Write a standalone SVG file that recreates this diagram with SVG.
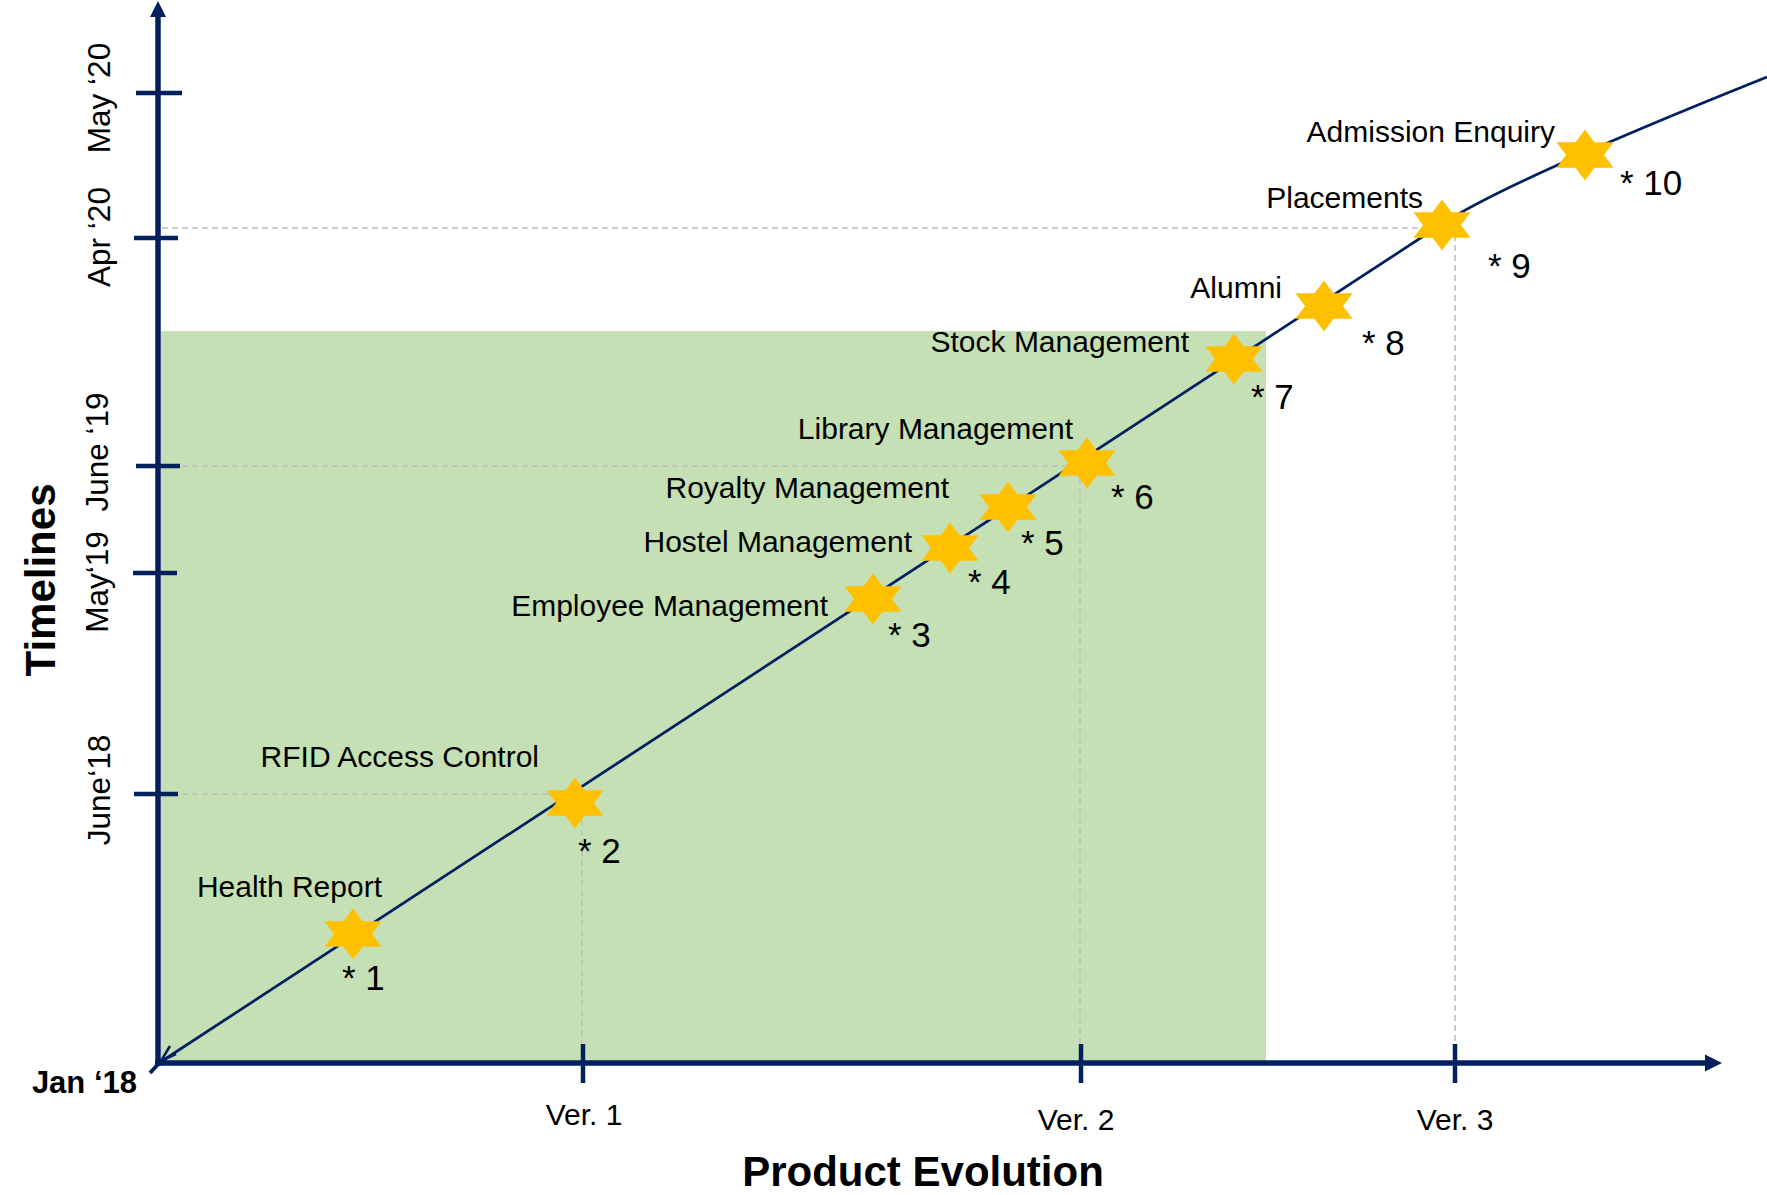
<svg xmlns="http://www.w3.org/2000/svg" xmlns:xlink="http://www.w3.org/1999/xlink" width="1767" height="1195" viewBox="0 0 1767 1195">
<style>
.lbl{font-family:"Liberation Sans",Arial,sans-serif;font-size:30px;fill:#000}
.num{font-family:"Liberation Sans",Arial,sans-serif;font-size:35px;fill:#000}
.ylbl{font-family:"Liberation Sans",Arial,sans-serif;font-size:31.5px;fill:#000}
.bold{font-family:"Liberation Sans",Arial,sans-serif;font-weight:bold;fill:#000}
.axis{stroke:#002060;stroke-width:5.5;fill:none}
.tick{stroke:#002060;stroke-width:4.5;fill:none}
.dash{stroke:#BFBFBF;stroke-width:1.6;stroke-dasharray:6 4;fill:none}
.star{fill:#FFC000}
</style>
<defs>
<polygon id="star" points="0,-25.5 9.5,-12.75 28.5,-12.75 19,0 28.5,12.75 9.5,12.75 0,25.5 -9.5,12.75 -28.5,12.75 -19,0 -28.5,-12.75 -9.5,-12.75"/>
</defs>
<rect width="1767" height="1195" fill="#fff"/>
<rect id="phase-area" x="161" y="331" width="1105" height="732" fill="#C5E0B4"/>
<g id="guides">
<path class="dash" d="M162,228 H1455 V1043"/>
<path class="dash" d="M162,466 H1080 V1043"/>
<path class="dash" d="M162,794 H575 M582,820 V1043"/>
</g>
<g id="axes">
<line class="axis" x1="158" y1="14" x2="158" y2="1066"/>
<polygon points="158,1 150,17 166,17" fill="#002060"/>
<line class="axis" x1="155" y1="1063" x2="1708" y2="1063"/>
<polygon points="1722,1063 1705,1054.5 1705,1071.5" fill="#002060"/>
<line class="tick" x1="136" y1="93" x2="182" y2="93"/>
<line class="tick" x1="134" y1="238" x2="178" y2="238"/>
<line class="tick" x1="136" y1="466" x2="180" y2="466"/>
<line class="tick" x1="133" y1="573" x2="177" y2="573"/>
<line class="tick" x1="134" y1="794" x2="178" y2="794"/>
<line class="tick" x1="583" y1="1044" x2="583" y2="1083"/>
<line class="tick" x1="1081" y1="1044" x2="1081" y2="1083"/>
<line class="tick" x1="1455" y1="1044" x2="1455" y2="1083"/>
<text class="ylbl" text-anchor="middle" transform="translate(110,98) rotate(-90)">May ‘20</text>
<text class="ylbl" text-anchor="middle" transform="translate(110,237) rotate(-90)">Apr ‘20</text>
<text class="ylbl" text-anchor="middle" transform="translate(108,452) rotate(-90)">June ‘19</text>
<text class="ylbl" text-anchor="middle" transform="translate(108,582) rotate(-90)">May‘19</text>
<text class="ylbl" text-anchor="middle" transform="translate(110,790) rotate(-90)">June‘18</text>
<text class="bold" font-size="42" text-anchor="middle" transform="translate(55,580) rotate(-90)">Timelines</text>
<text class="bold" font-size="31" text-anchor="end" x="137" y="1093">Jan ‘18</text>
<text class="lbl" text-anchor="middle" x="584" y="1125">Ver. 1</text>
<text class="lbl" text-anchor="middle" x="1076" y="1130">Ver. 2</text>
<text class="lbl" text-anchor="middle" x="1455" y="1130">Ver. 3</text>
<text class="bold" font-size="42" text-anchor="middle" x="923" y="1186">Product Evolution</text>
</g>
<g id="connectors">
<path d="M159,1063 L1442,224 Q1508.6,180.4 1767,77" fill="none" stroke="#002060" stroke-width="2.75"/>
<line x1="150" y1="1073" x2="161" y2="1061" stroke="#002060" stroke-width="4"/>
<polyline points="170,1046 161,1061 176,1054" fill="none" stroke="#002060" stroke-width="2.5"/>
</g>
<g id="node1"><use xlink:href="#star" class="star" transform="translate(353,934)"/><text class="lbl" text-anchor="end" x="382" y="897">Health Report</text><text class="num" x="342" y="990">* 1</text></g>
<g id="node2"><use xlink:href="#star" class="star" transform="translate(575,803)"/><text class="lbl" text-anchor="end" x="539" y="767">RFID Access Control</text><text class="num" x="578" y="863">* 2</text></g>
<g id="node3"><use xlink:href="#star" class="star" transform="translate(873,599)"/><text class="lbl" text-anchor="end" x="828" y="616">Employee Management</text><text class="num" x="888" y="647">* 3</text></g>
<g id="node4"><use xlink:href="#star" class="star" transform="translate(950,548)"/><text class="lbl" text-anchor="end" x="912" y="552">Hostel Management</text><text class="num" x="968" y="594">* 4</text></g>
<g id="node5"><use xlink:href="#star" class="star" transform="translate(1008,507)"/><text class="lbl" text-anchor="end" x="949" y="498">Royalty Management</text><text class="num" x="1021" y="555">* 5</text></g>
<g id="node6"><use xlink:href="#star" class="star" transform="translate(1087,463)"/><text class="lbl" text-anchor="end" x="1073" y="439">Library Management</text><text class="num" x="1111" y="509">* 6</text></g>
<g id="node7"><use xlink:href="#star" class="star" transform="translate(1234,359)"/><text class="lbl" text-anchor="end" x="1189" y="352">Stock Management</text><text class="num" x="1251" y="409">* 7</text></g>
<g id="node8"><use xlink:href="#star" class="star" transform="translate(1324,306)"/><text class="lbl" text-anchor="end" x="1282" y="298">Alumni</text><text class="num" x="1362" y="355">* 8</text></g>
<g id="node9"><use xlink:href="#star" class="star" transform="translate(1442,225)"/><text class="lbl" text-anchor="end" x="1423" y="208">Placements</text><text class="num" x="1488" y="278">* 9</text></g>
<g id="node10"><use xlink:href="#star" class="star" transform="translate(1585,155)"/><text class="lbl" text-anchor="end" x="1555" y="142">Admission Enquiry</text><text class="num" x="1620" y="195">* 10</text></g>
</svg>
